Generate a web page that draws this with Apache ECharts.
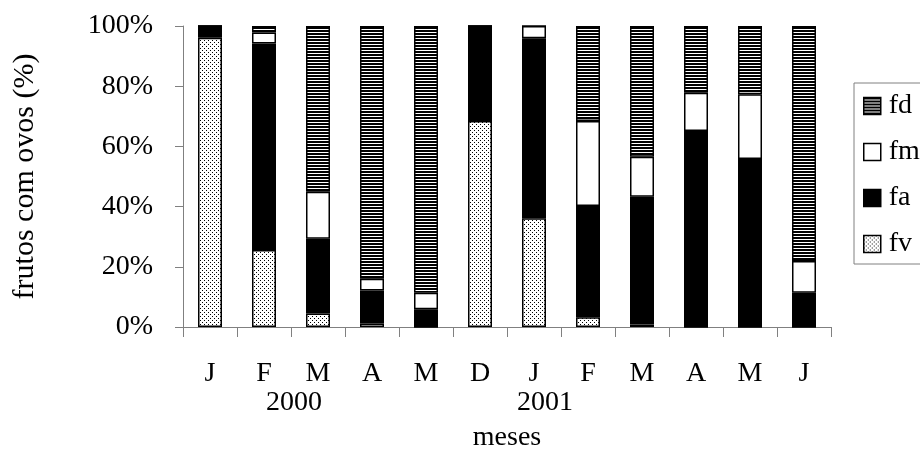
<!DOCTYPE html>
<html>
<head>
<meta charset="utf-8">
<script src="https://cdn.jsdelivr.net/npm/echarts/dist/echarts.min.js"></script>
<style>
html,body{margin:0;padding:0;background:#fff;}
#chart{width:920px;height:459px;}
</style>
</head>
<body>
<div id="chart"></div>
<script>
var months = ['J','F','M','A','M','D','J','F','M','A','M','J'];
var yearLabels = ['', '2000', '', '', '', '', '2001', '', '', '', '', ''];
var fv = [96.1, 25.6, 4.5, 1.2, 0, 68.4, 36.1, 3.2, 0.8, 0, 0, 0];
var fa = [3.9, 68.6, 24.8, 10.9, 5.9, 31.6, 59.8, 37.0, 42.5, 65.1, 55.8, 11.4];
var fm = [0, 3.6, 15.6, 3.9, 5.5, 0, 4.1, 28.2, 13.3, 12.7, 21.5, 10.5];
var fd = [0, 2.2, 55.1, 84.0, 88.6, 0, 0, 31.6, 43.4, 22.2, 22.7, 78.1];
var yTicks = [0, 20, 40, 60, 80, 100];
var legendOrder = ['fd', 'fm', 'fa', 'fv'];

function stripePattern() {
  var c = document.createElement('canvas');
  c.width = 4; c.height = 3;
  var g = c.getContext('2d');
  g.fillStyle = '#fff'; g.fillRect(0, 0, 4, 3);
  g.fillStyle = '#000'; g.fillRect(0, 0, 4, 2);
  return c;
}
function dotPattern() {
  var c = document.createElement('canvas');
  c.width = 4; c.height = 4;
  var g = c.getContext('2d');
  g.fillStyle = '#fff'; g.fillRect(0, 0, 4, 4);
  g.fillStyle = '#000';
  g.fillRect(0, 0, 1, 1);
  g.fillRect(2, 2, 1, 1);
  return c;
}

var FONT = 'Liberation Serif, Times New Roman, serif';
var FS = 28;
var chart = echarts.init(document.getElementById('chart'), null, {renderer: 'canvas'});

function barSeries(name, data, color) {
  return {
    name: name,
    type: 'bar',
    stack: 'all',
    data: data,
    barWidth: 24,
    itemStyle: {color: color, borderColor: '#000', borderWidth: 1.5},
    emphasis: {disabled: true},
    animation: false
  };
}

var yearShift = {1: 60, 6: 22};

var option = {
  animation: false,
  backgroundColor: '#fff',
  textStyle: {fontFamily: FONT, color: '#000'},
  grid: {left: 183, right: 89, top: 26, bottom: 132, containLabel: false},
  legend: {
    orient: 'vertical',
    left: 854, top: 83,
    data: legendOrder,
    icon: 'rect',
    itemWidth: 17, itemHeight: 17,
    itemGap: 18,
    padding: [9, 40, 6, 9],
    borderColor: '#808080', borderWidth: 1,
    itemStyle: {borderColor: '#000', borderWidth: 1.5},
    textStyle: {fontFamily: FONT, fontSize: FS, color: '#000', lineHeight: 28, padding: [0, 0, 0, 3]},
    selectedMode: false
  },
  xAxis: [{
    type: 'category',
    data: months,
    position: 'bottom',
    name: 'meses',
    nameLocation: 'middle',
    nameGap: 97,
    nameTextStyle: {fontFamily: FONT, fontSize: FS, color: '#000'},
    axisLine: {lineStyle: {color: '#808080', width: 1}},
    axisTick: {show: true, length: 10, lineStyle: {color: '#808080'}},
    axisLabel: {fontFamily: FONT, fontSize: FS, color: '#000', margin: 33, interval: 0}
  }, {
    type: 'category',
    data: yearLabels,
    position: 'bottom',
    axisLine: {show: false},
    axisTick: {show: false},
    axisLabel: {
      interval: 0, margin: 62,
      formatter: function (v, i) {
        if (!v) return '';
        return '{y' + i + '|' + v + '}';
      },
      rich: {
        y1: {fontFamily: FONT, fontSize: FS, color: '#000', padding: [0, 0, 0, yearShift[1]]},
        y6: {fontFamily: FONT, fontSize: FS, color: '#000', padding: [0, 0, 0, yearShift[6]]}
      }
    }
  }],
  yAxis: {
    type: 'value',
    min: yTicks[0], max: yTicks[yTicks.length - 1], interval: yTicks[1] - yTicks[0],
    name: 'frutos com ovos (%)',
    nameLocation: 'middle',
    nameGap: 143,
    nameTextStyle: {fontFamily: FONT, fontSize: 30, color: '#000'},
    axisLine: {show: true, lineStyle: {color: '#808080', width: 1}},
    axisTick: {show: true, length: 8, lineStyle: {color: '#808080'}},
    splitLine: {show: false},
    axisLabel: {fontFamily: FONT, fontSize: FS, color: '#000', margin: 30, formatter: '{value}%'}
  },
  series: [
    barSeries('fv', fv, {image: dotPattern(), repeat: 'repeat'}),
    barSeries('fa', fa, '#000'),
    barSeries('fm', fm, '#fff'),
    barSeries('fd', fd, {image: stripePattern(), repeat: 'repeat'})
  ]
};
chart.setOption(option);
</script>
</body>
</html>
